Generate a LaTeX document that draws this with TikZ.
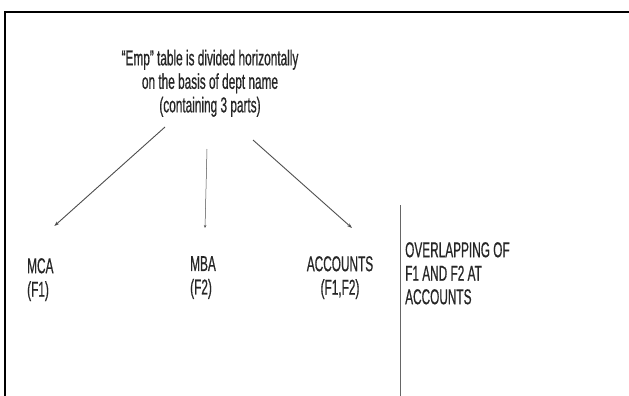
\documentclass[tikz,border=0pt]{standalone}
\usepackage{fontspec}
\usetikzlibrary{arrows.meta}
\newfontfamily\narrowsans[FakeStretch=0.55,FakeBold=0.6]{Liberation Sans}
\begin{document}
\begin{tikzpicture}[x=1pt,y=-1pt,font=\narrowsans\fontsize{21.5}{23.5}\selectfont,
  lbl/.style={inner sep=0pt,text=black!85},
  arr/.style={->,>={Stealth[length=5pt,width=3.5pt]},draw=black!70,line width=.9pt},
  thinarr/.style={->,>={Stealth[length=3pt,width=2.5pt]},draw=black!70,line width=.5pt}]
\useasboundingbox (0,0) rectangle (629,396);
\draw[line width=2.5pt] (629,12)--(5,12)--(5,396);
\node[lbl,align=center,anchor=south] (title) at (210,117) {“Emp” table is divided horizontally\\on the basis of dept name\\(containing 3 parts)};
\node[lbl,align=left,anchor=north west] (mca) at (27,258) {MCA\\(F1)};
\node[lbl,align=left,anchor=north west] (mba) at (190,256) {MBA\\(F2)};
\node[lbl,align=center,anchor=north] (acc) at (340,256) {ACCOUNTS\\(F1,F2)};
\node[lbl,align=left,anchor=north west] (over) at (405,242) {OVERLAPPING OF\\F1 AND F2 AT\\ACCOUNTS};
\coordinate (septop) at (400,205);\coordinate (sepbot) at (400,396);
\draw[black!60,line width=.7pt] (septop)--(sepbot);
\draw[arr] ([shift={(-45,10)}]title.south)--([shift={(14,-32)}]mca.north);
\draw[thinarr] ([shift={(-3,32)}]title.south)--([shift={(2,-28)}]mba.north);
\draw[arr] ([shift={(43,23)}]title.south)--([shift={(12,-28)}]acc.north);
\end{tikzpicture}
\end{document}
